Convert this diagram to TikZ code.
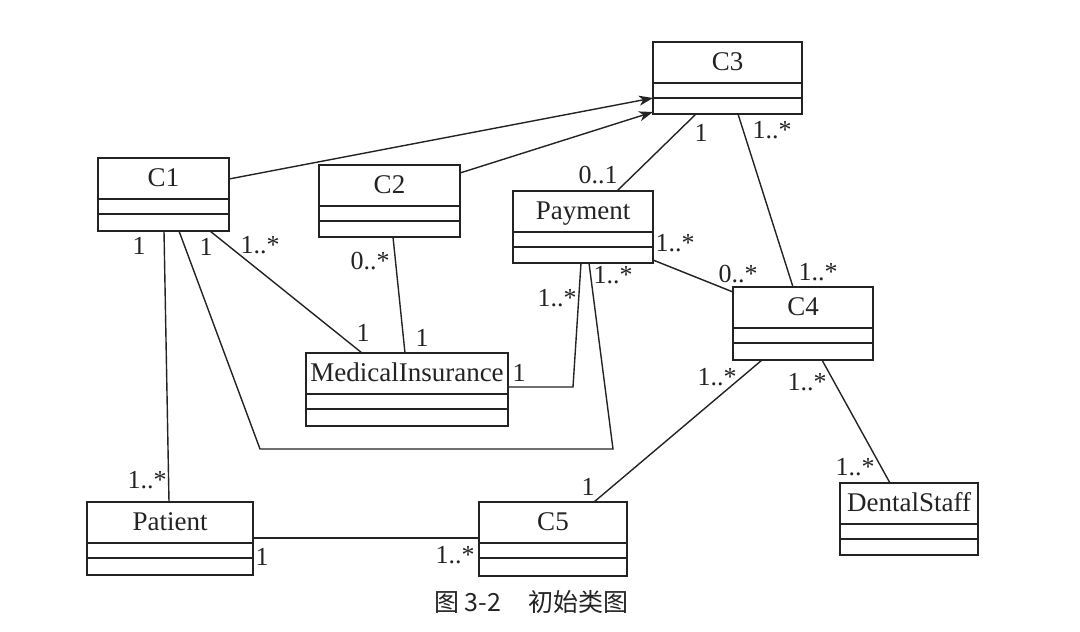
\documentclass[tikz,border=0pt]{standalone}
\usepackage{fontspec}
\setmainfont{Liberation Serif}
\newfontfamily\cjk{Noto Sans CJK SC}
\usetikzlibrary{arrows.meta}
\definecolor{ink}{RGB}{35,35,35}
\tikzset{
  umlbox/.style={draw=ink, line width=1.7pt, anchor=north west, inner sep=0pt, outer sep=0pt},
  umltitle/.style={text=ink, inner sep=0pt, text height=18pt, text depth=5pt, font=\fontsize{27}{30}\selectfont},
  assoc/.style={draw=ink, line width=1.4pt},
  mult/.style={text=ink, inner sep=0pt, font=\fontsize{26}{30}\selectfont},
}
% name, title, left, top, right, bottom
\newcommand\umlclass[6]{%
  \node[umlbox, minimum width=#5pt-#3pt, minimum height=#6pt-#4pt] (#1) at (#3,#4) {};
  \draw[ink, line width=1.7pt] ([yshift=-41pt]#1.north west) -- ([yshift=-41pt]#1.north east)
    ([yshift=-56pt]#1.north west) -- ([yshift=-56pt]#1.north east);
  \node[umltitle] (#1-t) at ([yshift=-22pt]#1.north) {#2};
}
\begin{document}
\begin{tikzpicture}[x=1pt, y=-1pt, >={Stealth[length=14pt,width=10pt,inset=4pt]}]
  \useasboundingbox (0,0) rectangle (1080,632);
  % classes
  \umlclass{c1}{C1}{98}{158}{229}{231}
  \umlclass{c2}{C2}{319}{165}{460}{237}
  \umlclass{c3}{C3}{653}{42}{802}{114}
  \umlclass{pay}{Payment}{513}{191}{653}{263}
  \umlclass{c4}{C4}{733}{287}{873}{360}
  \umlclass{mi}{MedicalInsurance}{306}{353}{508}{426}
  \umlclass{pat}{Patient}{87}{502}{253}{575}
  \umlclass{c5}{C5}{479}{502}{627}{576}
  \umlclass{ds}{DentalStaff}{840}{483}{978}{555}
  % generalisations
  \draw[assoc, ->] ([yshift=15.5pt]c1.east) -- ([yshift=-20pt]c3.west);
  \draw[assoc, ->] ([yshift=28pt]c2.east) -- ([yshift=2pt]c3.south west);
  % associations
  \draw[assoc] ([xshift=43pt]c3.south west) -- ([xshift=104pt]pay.north west);
  \draw[assoc] ([xshift=85pt]c3.south west) -- ([xshift=60pt]c4.north west);
  \draw[assoc] ([yshift=3pt]pay.south east) -- ([yshift=-5pt]c4.north west);
  \draw[assoc] ([xshift=66pt]c1.south west) -- ([xshift=82pt]pat.north west);
  \draw[assoc] ([xshift=81pt]c1.south west) -- (260,449) -- (613,449) -- ([xshift=76pt]pay.south west);
  \draw[assoc] ([xshift=112pt]c1.south west) -- ([xshift=56pt]mi.north west);
  \draw[assoc] ([xshift=74pt]c2.south west) -- ([xshift=99pt]mi.north west);
  \draw[assoc] ([yshift=-34pt]mi.north east) -- (573,387) -- ([xshift=68pt]pay.south west);
  \draw[assoc] ([xshift=29pt]c4.south west) -- ([xshift=115pt]c5.north west);
  \draw[assoc] ([xshift=89pt]c4.south west) -- ([xshift=50pt]ds.north west);
  \draw[assoc] ([yshift=-36pt]pat.north east) -- ([yshift=-36pt]c5.north west);
  % multiplicities
  \foreach \n/\p/\t in {m1/{701,133}/1, m2/{598,175}/0..1, m3/{772,130}/1..*, m4/{818,272}/1..*,
      m5/{675,243}/1..*, m6/{738,274}/0..*, m7/{139,246}/1, m8/{147,480}/1..*,
      m9/{206,247}/1, m10/{613,275}/1..*, m11/{260,245}/1..*, m12/{363,333}/1,
      m13/{370,261}/0..*, m14/{422,338}/1, m15/{519,373}/1, m16/{557,298}/1..*,
      m17/{717,377}/1..*, m18/{588,487}/1, m19/{807,382}/1..*, m20/{855,467}/1..*,
      m21/{262,557}/1, m22/{455,555}/1..*}
    \node[mult] (\n) at (\p) {\t};
  \node[text=ink, anchor=west, inner sep=0pt, font=\cjk\fontsize{25}{28}\selectfont] (cap) at (434,602) {图 3-2\hspace{1.1em}初始类图};
\end{tikzpicture}
\end{document}
